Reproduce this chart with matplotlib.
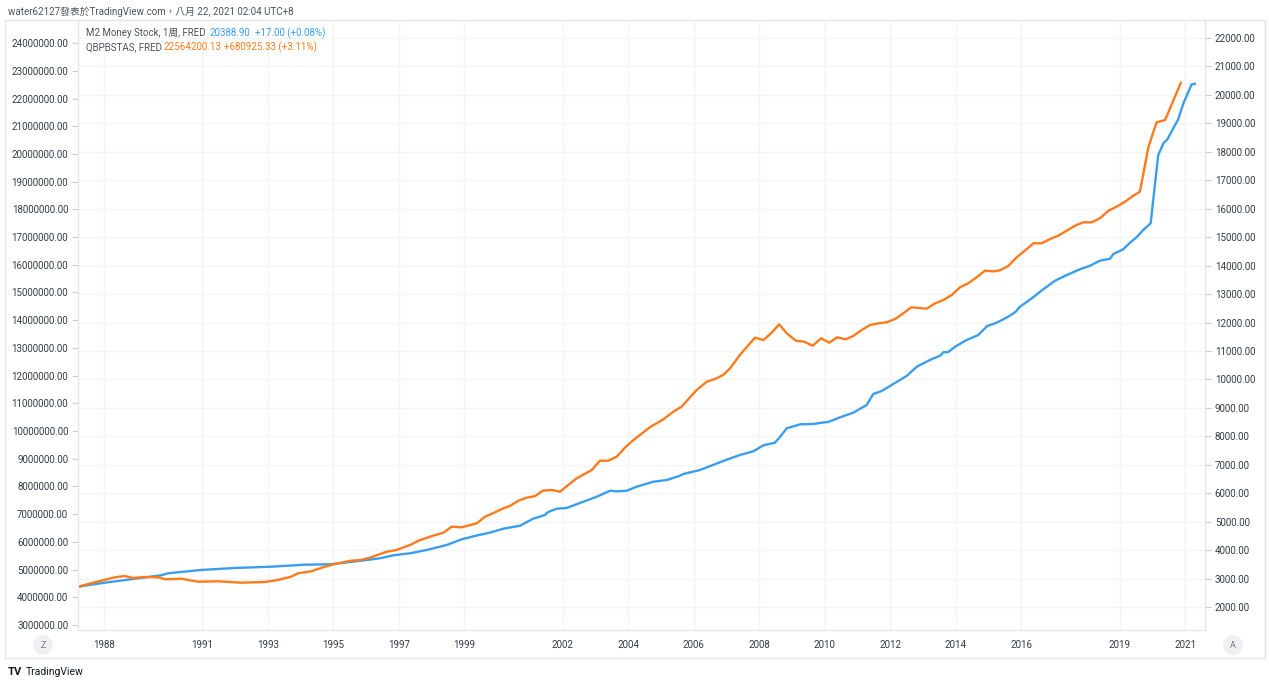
import matplotlib
matplotlib.use("Agg")
import matplotlib.pyplot as plt
from matplotlib.ticker import FuncFormatter, MultipleLocator
from matplotlib.patches import Rectangle

W, H = 1269, 687

# QBPBSTAS, FRED (left scale), values in millions
q_years = [1987.21, 1987.72, 1988.33, 1988.63, 1988.89, 1989.19, 1989.65, 1989.89,
           1990.35, 1990.87, 1991.48, 1992.18, 1992.91, 1993.31, 1993.71, 1993.92,
           1994.32, 1994.74, 1995.04, 1995.54, 1995.84, 1996.15, 1996.63, 1996.93,
           1997.34, 1997.65, 1998.05, 1998.36, 1998.61, 1998.92, 1999.38, 1999.63,
           1999.94, 2000.19, 2000.39, 2000.65, 2000.90, 2001.16, 2001.39, 2001.67,
           2001.92, 2002.17, 2002.43, 2002.89, 2003.14, 2003.39, 2003.65, 2003.90,
           2004.16, 2004.36, 2004.66, 2005.07, 2005.38, 2005.63, 2006.09, 2006.40,
           2006.65, 2006.90, 2007.11, 2007.41, 2007.87, 2008.13, 2008.38, 2008.61,
           2008.84, 2009.12, 2009.37, 2009.63, 2009.89, 2010.14, 2010.38, 2010.64,
           2010.87, 2011.13, 2011.38, 2011.64, 2011.89, 2012.15, 2012.40, 2012.64,
           2013.11, 2013.37, 2013.62, 2013.88, 2014.13, 2014.38, 2014.64, 2014.89,
           2015.15, 2015.35, 2015.60, 2015.86, 2016.11, 2016.37, 2016.62, 2016.88,
           2017.13, 2017.39, 2017.64, 2017.89, 2018.15, 2018.40, 2018.66, 2018.91,
           2019.17, 2019.42, 2019.62, 2019.88, 2020.13, 2020.39, 2020.87]
q_vals = [4.382, 4.541, 4.721, 4.768, 4.696, 4.732, 4.721, 4.649,
          4.671, 4.563, 4.577, 4.527, 4.552, 4.624, 4.743, 4.866,
          4.938, 5.104, 5.201, 5.320, 5.346, 5.443, 5.645, 5.707,
          5.887, 6.067, 6.223, 6.331, 6.547, 6.526, 6.670, 6.908,
          7.067, 7.211, 7.294, 7.486, 7.594, 7.655, 7.847, 7.872,
          7.810, 8.052, 8.294, 8.594, 8.929, 8.929, 9.074, 9.398,
          9.676, 9.857, 10.135, 10.420, 10.698, 10.878, 11.481, 11.780,
          11.878, 12.022, 12.264, 12.744, 13.368, 13.285, 13.548, 13.851,
          13.527, 13.260, 13.224, 13.079, 13.346, 13.188, 13.382, 13.310,
          13.430, 13.646, 13.826, 13.888, 13.924, 14.043, 14.249, 14.465,
          14.415, 14.609, 14.729, 14.909, 15.187, 15.331, 15.548, 15.786,
          15.764, 15.800, 15.956, 16.270, 16.508, 16.775, 16.775, 16.930,
          17.049, 17.230, 17.410, 17.533, 17.533, 17.677, 17.951, 18.096,
          18.276, 18.493, 18.637, 20.239, 21.141, 21.224, 22.564]

# M2 Money Stock (right scale), values in billions
m2_years = [1987.21, 1988.02, 1988.82, 1989.74, 1989.95, 1990.96, 1991.99, 1993.10,
            1994.13, 1994.93, 1995.84, 1996.42, 1996.83, 1997.34, 1997.85, 1998.46,
            1998.92, 1999.48, 1999.78, 2000.19, 2000.70, 2001.10, 2001.46, 2001.56,
            2001.82, 2002.12, 2002.63, 2003.04, 2003.45, 2003.65, 2003.96, 2004.26,
            2004.77, 2005.18, 2005.56, 2005.68, 2006.19, 2006.90, 2007.41, 2007.82,
            2008.13, 2008.48, 2008.64, 2008.84, 2009.25, 2009.65, 2009.91, 2010.11,
            2010.47, 2010.87, 2011.28, 2011.48, 2011.74, 2012.09, 2012.50, 2012.81,
            2013.21, 2013.52, 2013.62, 2013.77, 2013.98, 2014.33, 2014.69, 2014.96,
            2015.25, 2015.60, 2015.81, 2015.96, 2016.32, 2016.67, 2017.03, 2017.39,
            2017.79, 2018.10, 2018.40, 2018.71, 2018.81, 2019.11, 2019.32, 2019.52,
            2019.72, 2019.95, 2020.05, 2020.18, 2020.34, 2020.46, 2020.64, 2020.79,
            2020.95, 2021.20, 2021.30]
m2_vals = [2714, 2854, 2974, 3114, 3185, 3301, 3371, 3417,
           3487, 3501, 3627, 3712, 3817, 3888, 4004, 4179,
           4380, 4541, 4612, 4752, 4858, 5104, 5234, 5339,
           5455, 5480, 5701, 5877, 6088, 6067, 6088, 6228,
           6404, 6464, 6605, 6675, 6815, 7132, 7343, 7473,
           7684, 7775, 7986, 8281, 8422, 8432, 8478, 8503,
           8668, 8830, 9100, 9487, 9592, 9838, 10120, 10446,
           10682, 10833, 10953, 10963, 11149, 11385, 11561, 11877,
           11993, 12204, 12359, 12555, 12851, 13167, 13469, 13670,
           13870, 13996, 14172, 14243, 14408, 14573, 14805, 14995,
           15251, 15487, 16541, 17888, 18299, 18439, 18826, 19142,
           19705, 20371, 20389]

year_ticks = [1988, 1991, 1993, 1995, 1997, 1999, 2002, 2004, 2006, 2008,
              2010, 2012, 2014, 2016, 2019, 2021]

BLUE = "#3A9EEE"
ORANGE = "#FF7A1A"
TXT = "#363a45"
FONT = ["Roboto", "Noto Sans CJK TC", "DejaVu Sans"]
plt.rcParams["font.family"] = FONT


def fx(x):
    return x / W


def fy(y):
    return 1 - y / H


fig = plt.figure(figsize=(W / 100, H / 100), dpi=100)
fig.patch.set_facecolor("white")

# outer frame
fig.patches.append(Rectangle((fx(5), fy(658)), fx(1265) - fx(5), fy(20) - fy(658),
                             transform=fig.transFigure, fill=False,
                             edgecolor="#e3e5ea", lw=1))

ax = fig.add_axes([fx(78), fy(630), fx(1205) - fx(78), fy(20) - fy(630)])
ax2 = ax.twinx()

# blue on the main axes (right scale, with grid)
ax.plot(m2_years, m2_vals, color=BLUE, lw=1.7, solid_joinstyle="round")
ax.set_ylim(1191.6, 22633)
ax.yaxis.set_major_locator(MultipleLocator(1000))
ax.yaxis.tick_right()
ax.yaxis.set_major_formatter(FuncFormatter(lambda v, p: f"{v:.2f}" if v >= 2000 else ""))

# orange on the twin (left scale)
ax2.plot(q_years, [v * 1e6 for v in q_vals], color=ORANGE, lw=1.7, solid_joinstyle="round")
ax2.set_ylim(2.8196e6, 24.833e6)
ax2.yaxis.set_major_locator(MultipleLocator(1e6))
ax2.yaxis.tick_left()
ax2.yaxis.set_major_formatter(FuncFormatter(lambda v, p: f"{v:.2f}"))

ax.set_xlim(1987.206, 2021.608)
ax.set_xticks(year_ticks)
ax.set_xticklabels([str(y) for y in year_ticks])

ax.grid(True, color="#f3f4f6", lw=1)
ax.set_axisbelow(True)

for a in (ax, ax2):
    for s in a.spines.values():
        s.set_color("#e3e5ea")
    a.spines["top"].set_visible(False)

ax.tick_params(axis="y", which="both", length=4, width=0.8, color="#c8cbd3",
               labelsize=7, labelcolor=TXT, pad=3, right=True, left=False)
ax2.tick_params(axis="y", length=4, width=0.8, color="#c8cbd3",
                labelsize=7, labelcolor=TXT, pad=3, left=True, right=False)
ax.tick_params(axis="x", length=0, labelsize=7, labelcolor=TXT, pad=7.5)

# header and legend
fig.text(fx(8), fy(12), "water62127發表於TradingView.com，八月 22, 2021 02:04 UTC+8",
         fontsize=7, color="#50535e", va="center", ha="left")
fig.text(fx(86), fy(33), "M2 Money Stock, 1周, FRED", fontsize=7, color="#50535e", va="center")
fig.text(fx(210), fy(33), "20388.90", fontsize=7, color=BLUE, va="center")
fig.text(fx(255), fy(33), "+17.00 (+0.08%)", fontsize=7, color=BLUE, va="center")
fig.text(fx(86), fy(47), "QBPBSTAS, FRED", fontsize=7, color="#50535e", va="center")
fig.text(fx(163), fy(47), "22564200.13", fontsize=7, color=ORANGE, va="center")
fig.text(fx(224), fy(47), "+680925.33 (+3.11%)", fontsize=7, color=ORANGE, va="center")

# scale buttons
for x, s in ((43, "Z"), (1233, "A")):
    fig.text(fx(x), fy(645), s, fontsize=6.5, color="#787b86", ha="center", va="center",
             bbox=dict(boxstyle="circle,pad=0.6", fc="#eef0f3", ec="none"))

# footer logo
fig.text(fx(8), fy(672), "TV", fontsize=8, fontweight="bold", color="#131722", va="center")
fig.text(fx(26), fy(672), "TradingView", fontsize=7.5, color="#131722", va="center")

fig.savefig("out.png", dpi=100)
